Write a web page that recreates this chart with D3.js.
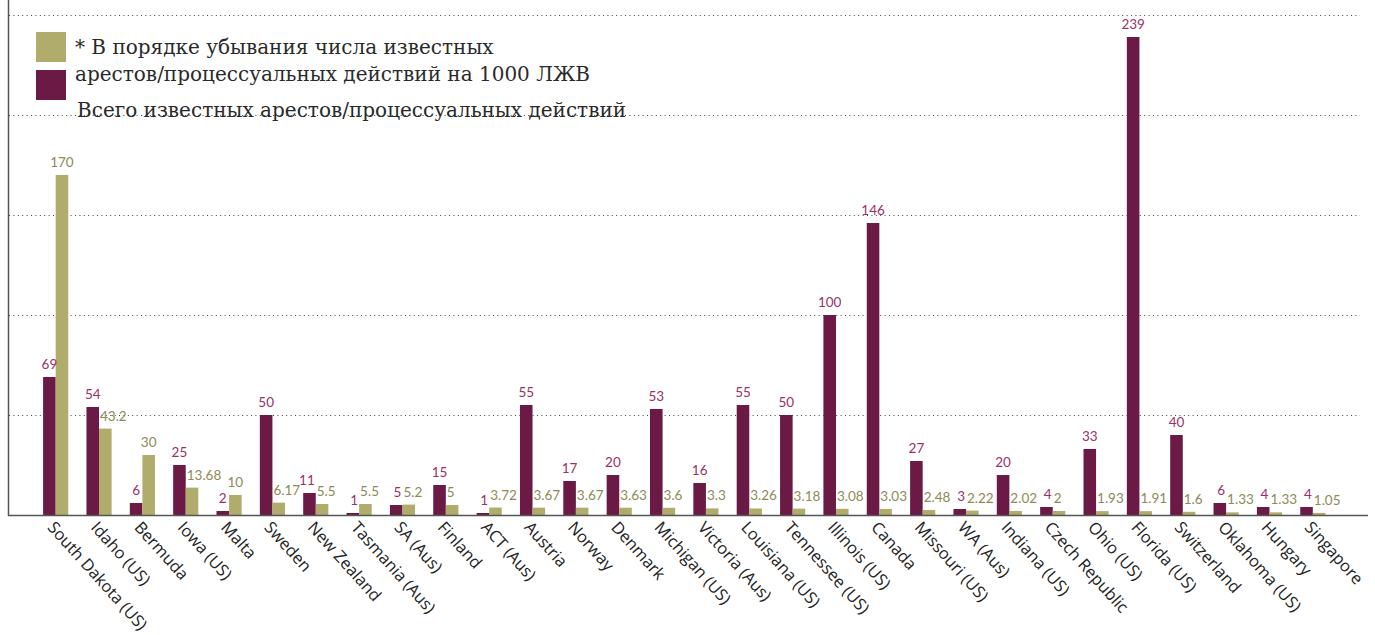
<!DOCTYPE html>
<html>
<head>
<meta charset="utf-8">
<script src="https://cdn.jsdelivr.net/npm/d3@7"></script>
<style>
  body { margin: 0; background: #fff; }
  svg { display: block; }
</style>
</head>
<body>
<div id="chart"></div>
<script>
const categories = [
  'South Dakota (US)', 'Idaho (US)', 'Bermuda', 'Iowa (US)', 'Malta', 'Sweden',
  'New Zealand', 'Tasmania (Aus)', 'SA (Aus)', 'Finland', 'ACT (Aus)', 'Austria',
  'Norway', 'Denmark', 'Michigan (US)', 'Victoria (Aus)', 'Louisiana (US)',
  'Tennessee (US)', 'Illinois (US)', 'Canada', 'Missouri (US)', 'WA (Aus)',
  'Indiana (US)', 'Czech Republic', 'Ohio (US)', 'Florida (US)', 'Switzerland',
  'Oklahoma (US)', 'Hungary', 'Singapore'
]

// total known arrests / prosecutions
const totalArrests = [
  69, 54, 6, 25, 2, 50, 11, 1, 5, 15, 1, 55, 17, 20, 53, 16, 55,
  50, 100, 146, 27, 3, 20, 4, 33, 239, 40, 6, 4, 4
]

// arrests / prosecutions per 1000 PLHIV
const perThousand = [
  170, 43.2, 30, 13.68, 10, 6.17, 5.5, 5.5, 5.2, 5, 3.72, 3.67, 3.67, 3.63,
  3.6, 3.3, 3.26, 3.18, 3.08, 3.03, 2.48, 2.22, 2.02, 2, 1.93, 1.91, 1.6,
  1.33, 1.33, 1.05
]

const yTicks = [50, 100, 150, 200, 250]

const legendLines = [
  '* В порядке убывания числа известных',
  'арестов/процессуальных действий на 1000 ЛЖВ',
  'Всего известных арестов/процессуальных действий'
]

const width = 1375
const height = 635
const purple = '#6b1a45'
const gold = '#afac6c'
const purpleText = '#9c2f68'
const goldText = '#8d8a55'

const svg = d3.select('#chart').append('svg')
  .attr('width', width)
  .attr('height', height)

const y = d3.scaleLinear().domain([0, 250]).range([515, 15])

const x0 = d3.scaleBand()
  .domain(categories)
  .range([34, 1334.5])
  .paddingInner(0.42)
  .paddingOuter(0.21)

const series = ['total', 'perThousand']
const x1 = d3.scaleBand().domain(series).range([0, x0.bandwidth()])

const rows = categories.map((c, i) => ({
  category: c,
  values: [
    {key: 'total', value: totalArrests[i]},
    {key: 'perThousand', value: perThousand[i]}
  ]
}))

// label placement: side by side when bars are about as tall,
// gold label pushed right when the purple bar stands above it
rows.forEach(r => {
  const tot = r.values[0].value
  const per = r.values[1].value
  const close = Math.abs(y(tot) - y(per)) < 16
  r.values[0].anchor = close ? 'end' : 'middle'
  r.values[1].anchor = (close || tot >= per) ? 'start' : 'middle'
})

// dotted gridlines
svg.append('g')
  .selectAll('line')
  .data(yTicks)
  .join('line')
  .attr('x1', 9)
  .attr('x2', 1360)
  .attr('y1', d => Math.round(y(d)) + 0.5)
  .attr('y2', d => Math.round(y(d)) + 0.5)
  .attr('stroke', '#444')
  .attr('stroke-width', 1)
  .attr('stroke-dasharray', '1,3.4')

// bars
const groups = svg.append('g')
  .selectAll('g')
  .data(rows)
  .join('g')
  .attr('transform', d => 'translate(' + x0(d.category) + ',0)')

groups.selectAll('rect')
  .data(d => d.values)
  .join('rect')
  .attr('x', d => x1(d.key))
  .attr('width', x1.bandwidth())
  .attr('y', d => y(d.value))
  .attr('height', d => y(0) - y(d.value))
  .attr('fill', d => d.key === 'total' ? purple : gold)

// value labels
const mid = x1.bandwidth()
groups.selectAll('text')
  .data(d => d.values)
  .join('text')
  .attr('x', d => {
    if (d.anchor === 'middle') return x1(d.key) + x1.bandwidth() / 2
    return d.anchor === 'end' ? mid - 1 : mid + 1
  })
  .attr('y', d => y(d.value) - 8)
  .attr('text-anchor', d => d.anchor)
  .attr('font-family', 'Lato, "Open Sans", sans-serif')
  .attr('font-size', 13.5)
  .attr('fill', d => d.key === 'total' ? purpleText : goldText)
  .text(d => d.value)

// axes lines
svg.append('line')
  .attr('x1', 8.5).attr('x2', 8.5)
  .attr('y1', 0).attr('y2', 516)
  .attr('stroke', '#555').attr('stroke-width', 1.5)

svg.append('line')
  .attr('x1', 8).attr('x2', 1368)
  .attr('y1', 515.5).attr('y2', 515.5)
  .attr('stroke', '#555').attr('stroke-width', 1.5)

// category labels, rotated
svg.append('g')
  .selectAll('text')
  .data(categories)
  .join('text')
  .attr('transform', d => 'translate(' + (x0(d) + x0.bandwidth() / 2 - 9) + ',528) rotate(48)')
  .attr('font-family', '"Open Sans", Lato, sans-serif')
  .attr('font-size', 16.5)
  .attr('fill', '#222')
  .text(d => d)

// legend
const legend = svg.append('g')
legend.append('rect')
  .attr('x', 36).attr('y', 32).attr('width', 30).attr('height', 30)
  .attr('fill', gold)
legend.append('rect')
  .attr('x', 36).attr('y', 70).attr('width', 30).attr('height', 30)
  .attr('fill', purple)

legend.selectAll('text')
  .data(legendLines)
  .join('text')
  .attr('x', (d, i) => i === 2 ? 77 : 75)
  .attr('y', (d, i) => [54, 81, 117][i])
  .attr('font-family', '"DejaVu Serif", serif')
  .attr('font-size', 20)
  .attr('fill', '#2a2a2a')
  .text(d => d)
</script>
</body>
</html>
